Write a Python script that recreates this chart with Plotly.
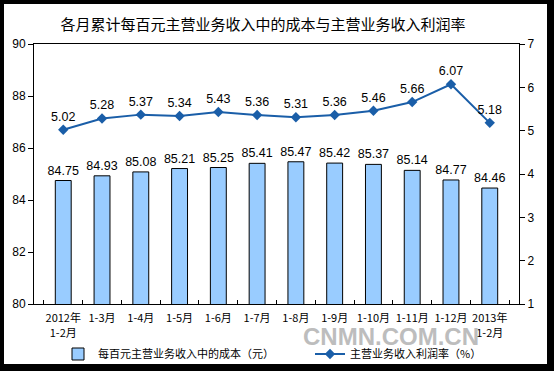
import plotly.graph_objects as go

categories = ["2012年<br>1-2月", "1-3月", "1-4月", "1-5月", "1-6月", "1-7月", "1-8月",
              "1-9月", "1-10月", "1-11月", "1-12月", "2013年<br>1-2月"]
cost_per_100 = [84.75, 84.93, 85.08, 85.21, 85.25, 85.41, 85.47, 85.42, 85.37, 85.14, 84.77, 84.46]
profit_rate = [5.02, 5.28, 5.37, 5.34, 5.43, 5.36, 5.31, 5.36, 5.46, 5.66, 6.07, 5.18]

W, H = 554, 371
L, R, T, B = 34, 35, 44, 67

fig = go.Figure()
fig.add_trace(go.Bar(
    x=categories, y=cost_per_100, name="每百元主营业务收入中的成本（元）",
    marker=dict(color="#99CCFF", line=dict(color="#000000", width=1)),
    width=0.41,
    text=[f"{v:.2f}" for v in cost_per_100], textposition="outside",
    constraintext="none",
    textfont=dict(family="Arial, Liberation Sans", size=12.5, color="#000000"),
    cliponaxis=False, yaxis="y", legend="legend",
))
fig.add_trace(go.Scatter(
    x=categories, y=profit_rate, name="主营业务收入利润率（%）",
    mode="lines+markers+text",
    line=dict(color="#1A5EA8", width=2),
    marker=dict(symbol="diamond", size=8, color="#1A5EA8"),
    text=[f"{v:.2f}" for v in profit_rate], textposition="top center",
    textfont=dict(family="Arial, Liberation Sans", size=12.5, color="#000000"),
    cliponaxis=False, yaxis="y2", legend="legend2",
))

frame_l, frame_t, frame_r, frame_b = 4, 4, 547, 364
pw, ph = W - L - R, H - T - B
def px2x(px):
    return (px - L) / pw
def px2y(py):
    return (H - B - py) / ph

fig.add_shape(type="rect", xref="paper", yref="paper",
              x0=px2x(frame_l), x1=px2x(frame_r), y0=px2y(frame_b), y1=px2y(frame_t),
              fillcolor="white", line=dict(width=0), layer="below")

fig.add_annotation(text="CNMN.COM.CN", xref="paper", yref="paper",
                   x=px2x(391), y=px2y(336), xanchor="center", yanchor="middle",
                   showarrow=False,
                   font=dict(family="Liberation Sans Narrow, Arial Narrow, Arial", size=24,
                             color="#BDBDBD", weight="bold"))

legend_common = dict(orientation="h", xanchor="left", yanchor="middle", yref="container",
                     xref="container", y=1 - 354 / H,
                     font=dict(family="Noto Sans CJK SC", size=11, color="#000000"),
                     bgcolor="rgba(0,0,0,0)")

fig.update_layout(
    width=W, height=H,
    margin=dict(l=L, r=R, t=T, b=B, autoexpand=False),
    paper_bgcolor="black", plot_bgcolor="rgba(0,0,0,0)",
    title=dict(text="各月累计每百元主营业务收入中的成本与主营业务收入利润率",
               x=263 / W, xanchor="center", xref="container",
               y=1 - 25 / H, yanchor="middle", yref="container",
               font=dict(family="Noto Sans CJK SC", size=15, color="#000000")),
    showlegend=True,
    legend=dict(x=58 / W, **legend_common),
    legend2=dict(x=310 / W, **legend_common),
    bargap=0.59,
    xaxis=dict(showline=True, linecolor="#000000", linewidth=1, mirror=True,
               ticks="inside", tickson="boundaries", ticklen=4, tickcolor="#000000",
               tickangle=0, automargin=False, ticklabelstandoff=4,
               tickfont=dict(family="Noto Sans CJK SC", size=11, color="#000000"),
               showgrid=False, zeroline=False),
    yaxis=dict(range=[80, 90], dtick=2, showline=True, linecolor="#000000", linewidth=1,
               ticks="outside", ticklen=5, tickcolor="#000000", automargin=False,
               tickfont=dict(family="Arial, Liberation Sans", size=12, color="#000000"),
               showgrid=False, zeroline=False),
    yaxis2=dict(range=[1, 7], dtick=1, overlaying="y", side="right",
                showline=True, linecolor="#000000", linewidth=1, automargin=False,
                ticks="outside", ticklen=5, tickcolor="#000000",
                tickfont=dict(family="Arial, Liberation Sans", size=12, color="#000000"),
                showgrid=False, zeroline=False),
)

fig.write_html("out.html", config={"displayModeBar": False},
               post_script="document.body.style.margin='0';")
